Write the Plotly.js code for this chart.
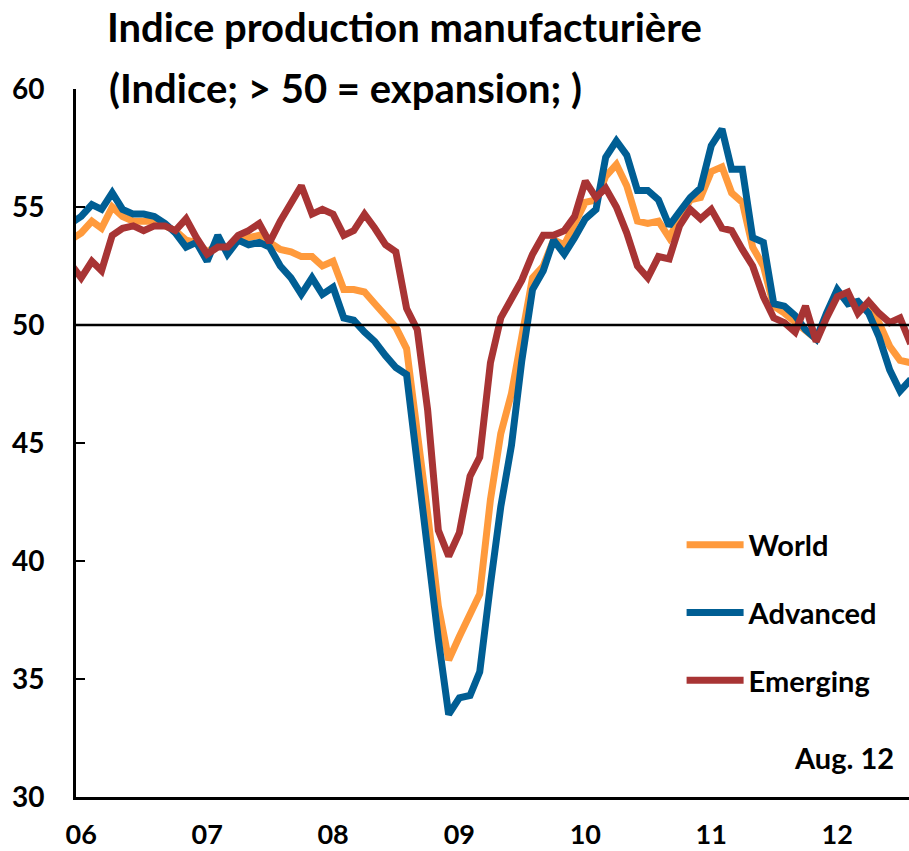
<!DOCTYPE html>
<html>
<head>
<meta charset="utf-8">
<script src="https://cdn.plot.ly/plotly-3.0.1.min.js"></script>
<style>
  html, body { margin: 0; padding: 0; background: #fff; }
  #chart { width: 909px; height: 851px; }
</style>
</head>
<body>
<div id="chart"></div>
<script>
// Monthly categories: Dec 2005 .. Aug 2012
var startYear = 2005, startMonth = 12, nMonths = 81;
var months = [];
for (var k = 0; k < nMonths; k++) {
  var m = startMonth - 1 + k;
  var y = startYear + Math.floor(m / 12);
  var mm = (m % 12) + 1;
  months.push(y + '-' + (mm < 10 ? '0' + mm : mm) + '-01');
}

var world = [
  53.6, 53.9, 54.4, 54.1, 55.0, 54.6, 54.4, 54.4, 54.4, 54.2, 54.0, 53.6, 53.5,
  53.1, 53.4, 53.3, 53.6, 53.7, 53.8, 53.5, 53.2, 53.1, 52.9, 52.9, 52.5,
  52.7, 51.5, 51.5, 51.4, 50.9, 50.4, 49.9, 49.0, 45.7, 42.0, 38.1, 35.8,
  36.8, 37.8, 38.6, 42.6, 45.4, 47.1, 49.6, 52.0, 52.5, 53.6, 53.4, 54.3,
  55.2, 55.3, 56.3, 56.8, 55.9, 54.4, 54.3, 54.4, 53.7, 54.5, 55.3, 55.4,
  56.5, 56.7, 55.6, 55.2, 53.3, 52.5, 50.8, 50.5, 50.1, 49.8, 49.4, 50.4,
  51.4, 51.0, 50.9, 50.6, 50.1, 49.1, 48.5, 48.4
];
var advanced = [
  54.3, 54.6, 55.1, 54.9, 55.6, 54.9, 54.7, 54.7, 54.6, 54.3, 53.9, 53.3, 53.5,
  52.7, 53.8, 53.0, 53.6, 53.4, 53.5, 53.3, 52.5, 52.0, 51.3, 52.0, 51.3,
  51.6, 50.3, 50.2, 49.7, 49.3, 48.7, 48.2, 47.9, 44.0, 40.4, 36.7, 33.5,
  34.2, 34.3, 35.3, 39.0, 42.3, 44.9, 48.5, 51.5, 52.3, 53.6, 53.0, 53.7,
  54.5, 54.9, 57.1, 57.8, 57.2, 55.7, 55.7, 55.3, 54.2, 54.8, 55.4, 55.8,
  57.6, 58.3, 56.6, 56.6, 53.7, 53.5, 50.9, 50.8, 50.4, 49.8, 49.4, 50.5,
  51.5, 50.9, 51.0, 50.5, 49.5, 48.1, 47.2, 47.7
];
var emerging = [
  52.6, 52.0, 52.7, 52.3, 53.8, 54.1, 54.2, 54.0, 54.2, 54.2, 54.0, 54.5, 53.7,
  53.0, 53.3, 53.3, 53.8, 54.0, 54.3, 53.5, 54.4, 55.2, 55.9, 54.7, 54.9,
  54.7, 53.8, 54.0, 54.7, 54.1, 53.4, 53.1, 50.7, 49.8, 46.4, 41.3, 40.2,
  41.2, 43.6, 44.4, 48.4, 50.3, 51.1, 51.9, 53.0, 53.8, 53.8, 54.0, 54.6,
  56.1, 55.4, 55.8, 55.0, 53.9, 52.5, 52.0, 52.9, 52.8, 54.2, 54.9, 54.5,
  54.9, 54.1, 54.0, 53.2, 52.5, 51.2, 50.3, 50.1, 49.7, 50.8, 49.3, 50.3,
  51.2, 51.4, 50.5, 51.0, 50.5, 50.1, 50.3, 49.2
];

var seriesNames = ['World', 'Advanced', 'Emerging'];
var tickVals = ['2006-01-01', '2007-01-01', '2008-01-01', '2009-01-01', '2010-01-01', '2011-01-01', '2012-01-01'];
var tickText = ['06', '07', '08', '09', '10', '11', '12'];
var yTicks = [30, 35, 40, 45, 50, 55, 60];

var colors = ['#FF9A3C', '#005E94', '#A83434'];
var FONT = 'Lato, "Open Sans", sans-serif';

var allSeries = [world, advanced, emerging];
var traces = allSeries.map(function (vals, i) {
  return {
    x: months, y: vals, type: 'scatter', mode: 'lines',
    name: seriesNames[i], legendgroup: 'g' + i,
    line: { color: colors[i], width: 7, shape: 'linear' },
    hoverinfo: 'skip'
  };
});

var layout = {
  width: 909, height: 851,
  margin: { l: 76, r: 0, t: 89, b: 54 },
  paper_bgcolor: '#fff', plot_bgcolor: '#fff',
  font: { family: FONT, color: '#000', size: 27, weight: 700 },
  showlegend: true,
  title: {
    text: '<b>Indice production manufacturière</b>',
    font: { family: FONT, size: 40, color: '#000' },
    xref: 'container', x: 107 / 909, xanchor: 'left',
    yref: 'container', y: 1 - 28 / 851, yanchor: 'middle'
  },
  xaxis: {
    type: 'date',
    range: ['2005-12-17', '2012-07-27'],
    showgrid: false, zeroline: false,
    showline: true, linecolor: '#000', linewidth: 3,
    ticks: '', tickmode: 'array', tickvals: tickVals, ticktext: tickText,
    tickfont: { family: FONT, size: 27, color: '#000', weight: 700 },
    ticklabelstandoff: 12
  },
  yaxis: {
    range: [30, 60],
    showgrid: false, zeroline: false,
    showline: true, linecolor: '#000', linewidth: 3,
    ticks: 'inside', ticklen: 9, tickwidth: 2.5, tickcolor: '#000',
    tickmode: 'array', tickvals: yTicks,
    tickfont: { family: FONT, size: 28, color: '#000', weight: 700 },
    ticklabelstandoff: 23
  },
  legend: {
    x: 0.727, y: 0.392, xanchor: 'left', yanchor: 'top',
    bgcolor: 'rgba(0,0,0,0)', borderwidth: 0,
    font: { family: FONT, size: 29, color: '#000', weight: 700 },
    itemwidth: 57, tracegroupgap: 27, traceorder: 'grouped'
  },
  shapes: [{
    type: 'line', xref: 'paper', x0: 0, x1: 1, yref: 'y', y0: 50, y1: 50,
    line: { color: '#000', width: 2.5 }, layer: 'above'
  }],
  annotations: [
    {
      text: '<b>(Indice; > 50 = expansion; )</b>',
      xref: 'paper', x: (107 - 76) / 833, xanchor: 'left',
      yref: 'paper', y: (797 - 88) / 708, yanchor: 'middle',
      showarrow: false, font: { family: FONT, size: 40, color: '#000' }
    },
    {
      text: '<b>Aug. 12</b>',
      xref: 'paper', x: (896 - 76) / 833, xanchor: 'right',
      yref: 'paper', y: (797 - 757) / 708, yanchor: 'middle',
      showarrow: false, font: { family: FONT, size: 29, color: '#000' }
    }
  ]
};

Plotly.newPlot('chart', traces, layout, { displayModeBar: false, staticPlot: true });
</script>
</body>
</html>
